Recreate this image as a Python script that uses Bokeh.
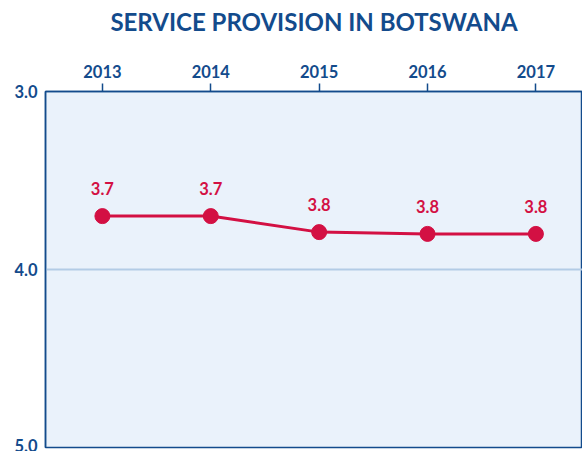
from bokeh.plotting import figure
from bokeh.models import Range1d, FixedTicker, ColumnDataSource, NumeralTickFormatter
from bokeh.core.properties import value
from bokeh.embed import file_html
from bokeh.resources import INLINE

years = [2013, 2014, 2015, 2016, 2017]
scores = [3.70, 3.70, 3.79, 3.80, 3.80]
y_ticks = [3.0, 4.0, 5.0]
title_text = "SERVICE PROVISION IN BOTSWANA"

BLUE = "#134b8c"
RED = "#d31043"
BG = "#eaf2fb"
GRID = "#b3cce6"
FONT = "Lato"

src = ColumnDataSource(dict(x=years, y=scores, lab=[f"{v:.1f}" for v in scores]))

p = figure(width=582, height=451, output_backend="svg", toolbar_location=None,
           x_axis_location="above",
           x_range=Range1d(2012.475, 2017.43), y_range=Range1d(5.0, 3.0),
           min_border_left=45, min_border_right=0, min_border_bottom=4,
           min_border_top=91)

p.background_fill_color = BG
p.border_fill_color = "white"
p.outline_line_color = BLUE
p.outline_line_width = 1.5

xa = p.xaxis[0]
xa.axis_label = title_text
xa.axis_label_text_font = FONT
xa.axis_label_text_font_size = "24px"
xa.axis_label_text_font_style = "bold"
xa.axis_label_text_color = BLUE
xa.axis_label_standoff = 26
xa.ticker = FixedTicker(ticks=years)
xa.major_tick_out = 8
xa.major_tick_in = 0
xa.minor_tick_out = 0
xa.minor_tick_in = 0
xa.major_label_standoff = 6
xa.axis_line_color = BLUE
xa.axis_line_width = 1.5
xa.major_tick_line_color = BLUE
xa.major_tick_line_width = 1.5
xa.major_label_text_font = FONT
xa.major_label_text_font_style = "bold"
xa.major_label_text_font_size = "16.5px"
xa.major_label_text_color = BLUE

ya = p.yaxis[0]
ya.ticker = FixedTicker(ticks=y_ticks)
ya.formatter = NumeralTickFormatter(format="0.0")
ya.major_tick_out = 0
ya.major_tick_in = 0
ya.minor_tick_out = 0
ya.minor_tick_in = 0
ya.major_label_standoff = 8
ya.axis_line_color = BLUE
ya.axis_line_width = 1.5
ya.major_label_text_font = FONT
ya.major_label_text_font_style = "bold"
ya.major_label_text_font_size = "16.5px"
ya.major_label_text_color = BLUE

p.xgrid.grid_line_color = None
p.ygrid.ticker = FixedTicker(ticks=[4.0])
p.ygrid.grid_line_color = GRID
p.ygrid.grid_line_width = 2

p.line("x", "y", source=src, line_color=RED, line_width=3)
p.scatter("x", "y", source=src, size=15, fill_color=RED, line_color=RED)
p.text("x", "y", text="lab", source=src, text_color=RED, text_font=value(FONT),
       text_font_style="bold", text_font_size="16.5px", text_align="center",
       text_baseline="bottom", y_offset=-21)

open("out.html", "w").write(file_html(p, INLINE))
